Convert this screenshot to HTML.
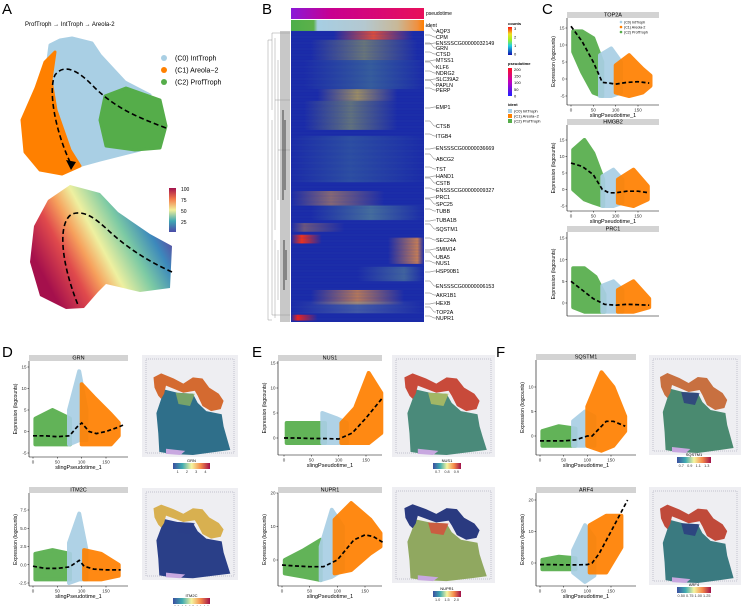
<!DOCTYPE html>
<html><head><meta charset="utf-8">
<style>
html,body{margin:0;padding:0;background:#fff;}
svg{display:block;font-family:"Liberation Sans",Arial,sans-serif;}
</style></head>
<body>
<svg id="fig" width="744" height="606" viewBox="0 0 744 606" xmlns="http://www.w3.org/2000/svg">
<defs>
<linearGradient id="spec" x1="0" x2="1" y1="0" y2="0">
<stop offset="0" stop-color="#3b4fa0"/><stop offset="0.25" stop-color="#3faab0"/><stop offset="0.5" stop-color="#f5f5a0"/><stop offset="0.75" stop-color="#f58a4a"/><stop offset="1" stop-color="#a0104a"/>
</linearGradient>
<linearGradient id="specV" x1="0" x2="0" y1="1" y2="0">
<stop offset="0" stop-color="#4a4aa8"/><stop offset="0.25" stop-color="#3fa8b4"/><stop offset="0.5" stop-color="#f2ef9a"/><stop offset="0.75" stop-color="#f37a4a"/><stop offset="1" stop-color="#a2124e"/>
</linearGradient>
<linearGradient id="umapg" x1="0.15" y1="0.85" x2="1" y2="0.45">
<stop offset="0" stop-color="#a5104c"/><stop offset="0.22" stop-color="#e04a4c"/><stop offset="0.36" stop-color="#f6a05c"/><stop offset="0.5" stop-color="#eef0a0"/><stop offset="0.7" stop-color="#7ccaa4"/><stop offset="0.88" stop-color="#3c88bc"/><stop offset="1" stop-color="#5a4ea2"/>
</linearGradient>
<linearGradient id="countsg" x1="0" x2="0" y1="1" y2="0">
<stop offset="0" stop-color="#1010b0"/><stop offset="0.33" stop-color="#20d0e0"/><stop offset="0.55" stop-color="#a0f020"/><stop offset="0.75" stop-color="#f0e020"/><stop offset="1" stop-color="#ff1010"/>
</linearGradient>
<linearGradient id="ptg" x1="0" x2="0" y1="1" y2="0">
<stop offset="0" stop-color="#2020ff"/><stop offset="0.5" stop-color="#c000c0"/><stop offset="1" stop-color="#ff1020"/>
</linearGradient>
<linearGradient id="ptbar" x1="0" x2="1" y1="0" y2="0">
<stop offset="0" stop-color="#8a18d8"/><stop offset="0.3" stop-color="#c80090"/><stop offset="1" stop-color="#e8105a"/>
</linearGradient>
<linearGradient id="identbar" x1="0" x2="1" y1="0" y2="0">
<stop offset="0" stop-color="#4daf4a"/><stop offset="0.17" stop-color="#5cb04a"/><stop offset="0.2" stop-color="#a6cee3"/><stop offset="0.55" stop-color="#b4c8d0"/><stop offset="0.8" stop-color="#c8b898"/><stop offset="0.95" stop-color="#f09040"/><stop offset="1" stop-color="#ff7f00"/>
</linearGradient>
</defs>
<g id="root"></g>
</svg>
<script>
const NS="http://www.w3.org/2000/svg";
const root=document.getElementById('root');
function mk(tag,attrs,parent,txt){const e=document.createElementNS(NS,tag);for(const k in attrs)e.setAttribute(k,attrs[k]);if(txt!==undefined)e.textContent=txt;(parent||root).appendChild(e);return e;}
const GREEN="#55ad4a",BLUE="#a9cfe4",ORANGE="#ff8000";

/* ---------- Panel letters ---------- */
const letters=[["A",2,14],["B",262,14],["C",542,14],["D",2,357],["E",252,357],["F",496,357]];
letters.forEach(l=>{const t=mk('text',{x:l[1],y:l[2],'font-size':15},root,l[0]);});

/* ---------- Panel A ---------- */
const gA=mk('g',{});
mk('text',{x:25,y:26,'font-size':6},gA,"ProfTroph \u2192 IntTroph \u2192 Areola-2");
function pts(a){return a.map(p=>p.join(',')).join(' ');}
const umBlue=[[50,45],[60,40],[72,38],[92,43],[100,55],[112,68],[125,82],[150,95],[140,150],[100,160],[78,166],[60,140],[48,60]];
const umOrange=[[55,52],[45,62],[36,88],[22,120],[25,152],[40,170],[62,174],[80,166],[70,150],[56,110],[51,80]];
const umGreen=[[105,96],[126,88],[160,100],[166,126],[160,148],[135,150],[106,146],[100,120]];
const pb=mk('polygon',{points:pts(umBlue),fill:BLUE,stroke:BLUE,'stroke-width':3,'stroke-linejoin':'round'},gA);
const po=mk('polygon',{points:pts(umOrange),fill:ORANGE,stroke:ORANGE,'stroke-width':3,'stroke-linejoin':'round'},gA);
const pg=mk('polygon',{points:pts(umGreen),fill:GREEN,stroke:GREEN,'stroke-width':3,'stroke-linejoin':'round'},gA);
mk('path',{d:"M166,128 C140,118 118,110 95,88 C80,72 65,62 55,75 C48,90 55,130 70,162",fill:'none',stroke:'#000','stroke-width':1.6,'stroke-dasharray':'5,3'},gA);
mk('polygon',{points:"66,160 76,162 71,170",fill:'#000'},gA);
const legA=[["(C0) IntTroph",BLUE,58],["(C1) Areola\u22122",ORANGE,70],["(C2) ProfTroph",GREEN,82]];
legA.forEach(l=>{const g=mk('g',{},gA);mk('circle',{cx:164,cy:l[2],r:3,fill:l[1]},g);mk('text',{x:175,y:l[2]+2.5,'font-size':7},g,l[0]);});
const umBottom=[[70,185],[100,193],[118,212],[150,234],[172,246],[170,288],[140,292],[106,284],[98,292],[84,308],[66,309],[40,296],[30,262],[34,226],[48,200]];
const ub=mk('polygon',{points:pts(umBottom),fill:'url(#umapg)'},gA);
mk('path',{d:"M172,272 C150,262 130,250 110,232 C95,218 85,210 72,214 C58,222 60,260 78,305",fill:'none',stroke:'#000','stroke-width':1.6,'stroke-dasharray':'5,3'},gA);
const cbA=mk('rect',{x:169,y:188,width:7,height:44,fill:'url(#specV)'},gA);
const cbAticks=[100,75,50,25];
cbAticks.forEach((v,i)=>mk('text',{x:181,y:191+i*11,'font-size':5},gA,String(v)));

/* ---------- Panel B heatmap ---------- */
const gB=mk('g',{});
const HX=291,HW=133,HY=31,HH=291;
const ptbar=mk('rect',{x:HX,y:8,width:HW,height:11,fill:'url(#ptbar)'},gB);
const idbar=mk('rect',{x:HX,y:20,width:HW,height:11,fill:'url(#identbar)'},gB);
mk('text',{x:426,y:15,'font-size':5},gB,"pseudotime");mk('text',{x:426,y:27,'font-size':5},gB,"ident");
mk('rect',{x:HX,y:HY,width:HW,height:HH,fill:'#1a2aa8'},gB);
const bandTop=[0.0,0.03,0.1,0.2,0.24,0.36,0.55,0.6,0.66,0.7,0.71,0.81,0.89,0.93,0.975];
const bandBot=[0.03,0.1,0.2,0.24,0.34,0.52,0.6,0.65,0.69,0.73,0.8,0.86,0.94,0.97,0.995];
const bandCtr=[0.62,0.55,0.6,0.5,0.45,0.45,0.3,0.6,0.1,0.08,0.95,0.85,0.5,0.5,0.05];
const bandWid=[0.3,0.4,0.5,0.3,0.35,0.55,0.4,0.45,0.3,0.15,0.22,0.35,0.35,0.5,0.15];
const bandCol=["#f05030","#b8c048","#60a888","#e0c040","#a8b850","#58a090","#d09050","#70b090","#c08050","#ff3010","#f09040","#70a890","#e89040","#80a0a0","#ff2010"];
const bandOp=[0.9,0.5,0.4,0.65,0.5,0.3,0.6,0.5,0.5,0.95,0.8,0.45,0.75,0.4,0.95];
const defs=document.querySelector('defs');
bandTop.forEach((t,i)=>{
 const id='hb'+i;const lg=mk('linearGradient',{id:id,x1:0,x2:1,y1:0,y2:0},defs);
 const c=bandCtr[i],w=bandWid[i];
 [[Math.max(0,c-w),0],[c,bandOp[i]],[Math.min(1,c+w),0]].forEach(s=>mk('stop',{offset:s[0],'stop-color':bandCol[i],'stop-opacity':s[1]},lg));
 const r=mk('rect',{x:HX,y:HY+t*HH,width:HW,height:(bandBot[i]-t)*HH,fill:'url(#'+id+')'},gB);
 
});
for(let k=0;k<97;k++){mk('line',{x1:HX,x2:HX+HW,y1:HY+k*HH/97,y2:HY+k*HH/97,stroke:(k%2?'#2040b8':'#3a60a8'),'stroke-width':0.6,opacity:0.35},gB);}
mk('rect',{x:280,y:HY,width:10,height:HH,fill:'#c8c8c8'},gB);
mk('path',{d:"M268,40 V320 M268,40 H272 M268,320 H272 M272,33 V110 M272,120 V315 M275,38 V230 M275,240 V318 M278,60 V200 M278,250 V300 M272,33 H290 M275,100 H290 M278,150 H290 M272,315 H290",fill:'none',stroke:'#999','stroke-width':0.5},gB);
mk('path',{d:"M283,110 V200 M285,120 V190 M284,240 V290 M286,250 V280",fill:'none',stroke:'#222','stroke-width':0.8},gB);
const genes=["AQP3","CPM","ENSSSCG00000032149","GRN","CTSD","MTSS1","KLF6","NDRG2","SLC39A2","PAPLN","PERP","EMP1","CTSB","ITGB4","ENSSSCG00000036669","ABCG2","TST","HAND1","CSTB","ENSSSCG00000009327","PRC1","SPC25","TUBB","TUBA1B","SQSTM1","SEC24A","SMIM14","UBA5","NUS1","HSP90B1","ENSSSCG00000006153","AKR1B1","HEXB","TOP2A","NUPR1"];
const geneY=[31,37,43,48,54,60,67,73,79,85,90,107,126,136,148,159,169,176,183,190,197,204,211,220,229,240,249,257,263,271,286,295,303,312,318];
genes.forEach((g,i)=>{const y=geneY[i];const gg=mk('g',{},gB);
 mk('path',{d:`M425,${y-2+((i%3)-1)*3} L430,${y-2+((i%3)-1)*3} L434,${y} L436,${y}`,fill:'none',stroke:'#444','stroke-width':0.4},gg);
 mk('text',{x:436,y:y+2,'font-size':5.3},gg,g);});
const gL=mk('g',{},gB);
mk('text',{x:508,y:25,'font-size':4,'font-weight':'bold'},gL,"counts");
mk('rect',{x:508,y:27,width:4,height:28,fill:'url(#countsg)'},gL);
["3","2","1","0"].forEach((v,i)=>mk('text',{x:514,y:30+i*8.5,'font-size':4},gL,v));
mk('text',{x:508,y:65,'font-size':4,'font-weight':'bold'},gL,"pseudotime");
mk('rect',{x:508,y:68,width:4,height:28,fill:'url(#ptg)'},gL);
["200","150","100","50","0"].forEach((v,i)=>mk('text',{x:514,y:71+i*6.6,'font-size':4},gL,v));
mk('text',{x:508,y:106,'font-size':4,'font-weight':'bold'},gL,"ident");
[["(C0) IntTroph",BLUE],["(C1) Areola\u22122",ORANGE],["(C2) ProfTroph",GREEN]].forEach((l,i)=>{mk('rect',{x:508,y:109+i*5,width:4,height:4,fill:l[1]},gL);mk('text',{x:514,y:112.5+i*5,'font-size':4},gL,l[0]);});

/* ---------- scatter panels ---------- */
const panels=[
 {name:"TOP2A",box:[567,18,659,105],xc:[571,638],yc:[15,28,-5,96],yt:[-5,0,5,10,15],legend:true,
  g:[[5,8,14],[25,2,14],[50,-4,12],[70,-5,5]],b:[[65,-5,7],[90,-5,9],[112,-4,5]],o:[[100,-4,4],[130,-5,7],[160,-4,3],[178,-2,1]],
  tx:[0,25,50,70,85,100,125,150,175],ty:[15.5,11,5,-1,-1.2,-1.5,-1,-0.8,-1.2]},
 {name:"HMGB2",box:[567,125,659,211],xc:[571,638],yc:[15,140,-5,206],yt:[-5,0,5,10,15],
  g:[[5,0,12],[30,-3,15],[50,-4,11],[72,-5,3]],b:[[70,-5,4],[95,-5,6],[115,-4,3]],o:[[105,-4,3],[140,-5,6],[172,-3,1]],
  tx:[0,25,50,70,85,100,125,150,175],ty:[8,7,4.5,0,-1,-1,-0.5,-0.5,-1]},
 {name:"PRC1",box:[567,232,659,316],xc:[571,638],yc:[15,238,0,303],yt:[0,5,10,15],noxaxis:true,
  g:[[5,-1,8],[30,-2,8],[55,-2,6],[75,-2,2]],b:[[70,-2,4],[95,-2,5],[115,-2,3]],o:[[105,-2,3],[140,-2,5],[175,-1,1]],
  tx:[0,25,50,75,100,125,150,175],ty:[5,3,1,-0.3,-0.5,-0.3,-0.4,-0.5]},
 {name:"GRN",box:[29,361,128,457],xc:[33,106],yc:[15,367,-5,453],yt:[-5,0,5,10,15],
  g:[[5,-3,3],[40,-3,5],[76,-3,3]],b:[[74,-3,5],[95,-2,14],[110,-2,5]],o:[[100,-3,11],[125,-3,8],[160,-3,4],[176,-1,2]],
  tx:[0,25,50,75,90,100,115,130,150,175,185],ty:[-1,-1,-1.2,-1,1,2,0,-0.5,0,1,1.5]},
 {name:"ITM2C",box:[29,493,128,586],xc:[33,106],yc:[7.5,510,-2.5,583],yt:[-2.5,0,2.5,5,7.5],fmt:1,
  g:[[5,-2,1.5],[40,-2,2],[76,-2,1.5]],b:[[74,-2.5,3],[95,-2,7],[110,-2,2]],o:[[105,-2,2],[140,-2,1.5],[176,-1.5,0]],
  tx:[0,25,50,75,95,105,125,150,180],ty:[-0.2,-0.5,-0.5,-0.3,0.6,-0.2,-0.6,-0.7,-0.7]},
 {name:"NUS1",box:[278,361,382,455],xc:[284,366],yc:[15,363,0,438],yt:[0,5,10,15],
  g:[[5,-1,3],[40,-1,3],[75,-1,3]],b:[[70,-1,5],[95,-1,4],[115,-1,3]],o:[[105,-1,3],[130,-1,6],[155,-1,13],[178,1,9]],
  tx:[0,25,50,75,100,125,150,165,180],ty:[0,0,-0.1,-0.1,-0.2,1,4,6,8]},
 {name:"NUPR1",box:[278,493,382,586],xc:[282,365],yc:[20,493,0,560],yt:[0,10,20],
  g:[[5,-4,0],[40,-5,3],[70,-6,6]],b:[[70,-6,4],[90,-5,15],[110,-3,10]],o:[[95,-4,12],[125,-3,17],[160,2,12],[178,4,8]],
  tx:[0,25,50,75,100,115,130,150,165,185],ty:[-1.5,-1.8,-2,-2,0,3,6,7.5,7,5]},
 {name:"SQSTM1",box:[536,360,636,455],xc:[540,611],yc:[10,387,0,436],yt:[0,5,10],
  g:[[5,-2,1],[40,-2,2],[75,-2,1.5]],b:[[70,-2,3],[95,-2,5],[115,-2,4]],o:[[100,-2,6],[130,-3,13],[155,-2,10],[180,1,4]],
  tx:[0,25,50,75,100,110,125,140,155,180],ty:[-1,-1,-1,-0.8,0,0,1.5,3,3,2]},
 {name:"ARF4",box:[536,493,636,586],xc:[540,611],yc:[20,500,0,563],yt:[0,10,20],
  g:[[5,-2,1],[40,-2,2],[75,-2,1.5]],b:[[70,-3,4],[95,-6,12],[115,-4,8]],o:[[105,-3,12],[140,-3,15],[172,5,15]],
  tx:[0,25,50,75,100,110,125,150,185],ty:[-0.5,-0.5,-0.6,-0.6,-0.5,0,3,10,20]}
];
const xTicks=[0,50,100,150];
panels.forEach(p=>{
 const [L,T,R,B]=p.box;
 const sx=v=>p.xc[0]+(p.xc[1]-p.xc[0])*v/150;
 const sy=v=>p.yc[1]+(p.yc[3]-p.yc[1])*(v-p.yc[0])/(p.yc[2]-p.yc[0]);
 const g=mk('g',{});
 const strip=mk('rect',{x:L,y:T-6,width:R-L,height:6,fill:'#d3d3d3'},g);
 mk('text',{x:(L+R)/2,y:T-1.3,'font-size':5.5,'text-anchor':'middle'},g,p.name);
 const cl=mk('g',{},g);
 [[p.g,GREEN,'cloud-proftroph'],[p.b,BLUE,'cloud-inttroph'],[p.o,ORANGE,'cloud-areola2']].forEach(c=>{
  const env=c[0];const top=env.map(e=>[sx(e[0]),sy(e[2])]);const bot=env.slice().reverse().map(e=>[sx(e[0]),sy(e[1])]);
  const d="M"+top.concat(bot).map(q=>q[0].toFixed(1)+','+q[1].toFixed(1)).join(' L')+" Z";
  const e=mk('path',{d:d,fill:c[1],'stroke':c[1],'stroke-width':4,'stroke-linejoin':'round',opacity:0.92},cl);
  
 });
 const tl=mk('polyline',{points:p.tx.map((x,i)=>sx(x).toFixed(1)+','+sy(p.ty[i]).toFixed(1)).join(' '),fill:'none',stroke:'#000','stroke-width':1.7,'stroke-dasharray':'4,2.5'},g);
 
 mk('line',{x1:L,y1:T,x2:L,y2:B,stroke:'#000','stroke-width':0.6},g);
 p.yt.forEach(v=>{const y=sy(v);mk('line',{x1:L-1.5,x2:L,y1:y,y2:y,stroke:'#000','stroke-width':0.5},g);mk('text',{x:L-2.5,y:y+1.6,'font-size':4.5,'text-anchor':'end',fill:'#333'},g,p.fmt?v.toFixed(1):String(v));});
 const yl=mk('text',{x:0,y:0,'font-size':5,'text-anchor':'middle',transform:`translate(${L-12},${(T+B)/2}) rotate(-90)`},g,"Expression (logcounts)");
 
 mk('line',{x1:L,y1:B,x2:R,y2:B,stroke:'#000','stroke-width':0.6},g);
 if(!p.noxaxis){
  xTicks.forEach(v=>{const x=sx(v);mk('line',{x1:x,x2:x,y1:B,y2:B+1.5,stroke:'#000','stroke-width':0.5},g);mk('text',{x:x,y:B+6.5,'font-size':4.5,'text-anchor':'middle',fill:'#333'},g,String(v));});
  const xl=mk('text',{x:(L+R)/2,y:B+12,'font-size':5.5,'text-anchor':'middle'},g,"slingPseudotime_1");
  
 }
 if(p.legend){
  [["(C0) IntTroph",BLUE],["(C1) Areola-2",ORANGE],["(C2) ProfTroph",GREEN]].forEach((l,i)=>{mk('circle',{cx:621,cy:22+i*5,r:1.3,fill:l[1]},g);mk('text',{x:624,y:23.4+i*5,'font-size':3.6},g,l[0]);});
 }
});

/* ---------- spatial tissue maps ---------- */
const tBand=[[12,22],[20,18],[33,23],[43,28],[53,22],[63,23],[70,32],[80,38],[85,45],[82,53],[72,55],[63,50],[58,40],[55,35],[43,37],[33,33],[25,30],[23,38],[20,43],[17,40],[13,32]];
const tBody=[[20,33],[37,37],[53,38],[58,47],[67,55],[83,58],[85,70],[88,80],[92,93],[77,95],[53,98],[30,97],[18,95],[17,77],[15,57],[20,43]];
const spatial=[
 {name:"GRN",box:[142,355,96,102],band:"#d46a30",body:"#2f6f8a",mid:"#8ab060",cb:[173,463,37],ticks:["1","2","3","4"]},
 {name:"ITM2C",box:[142,488,96,92],band:"#d8b050",body:"#2a3f88",mid:"#2a3f88",cb:[173,598,37],ticks:["0.8","1.0","1.2","1.4","1.6"]},
 {name:"NUS1",box:[392,355,103,102],band:"#c84a3a",body:"#4a8a7a",mid:"#b8c060",cb:[433,463,28],ticks:["0.7","0.8","0.9"]},
 {name:"NUPR1",box:[392,487,103,96],band:"#2a3a80",body:"#90a860",mid:"#d84a3a",cb:[433,591,28],ticks:["1.0","1.5","2.0"]},
 {name:"SQSTM1",box:[649,355,92,100],band:"#c87040",body:"#4a8a70",mid:"#2a3a80",cb:[677,457,34],ticks:["0.7","0.9","1.1","1.3"]},
 {name:"ARF4",box:[649,487,92,98],band:"#c04a3a",body:"#3a7a80",mid:"#2a3a80",cb:[677,587,34],ticks:["0.50","0.75","1.00","1.25"]}
];
spatial.forEach(s=>{
 const [x,y,w,h]=s.box;const g=mk('g',{});
 mk('rect',{x:x,y:y,width:w,height:h,fill:'#eeeef2'},g);
 mk('rect',{x:x+4,y:y+4,width:w-8,height:h-8,fill:'none',stroke:'#d8d8e0','stroke-width':2,'stroke-dasharray':'1,1'},g);
 const tr=q=>(x+q[0]*w/100).toFixed(1)+','+(y+q[1]*h/100).toFixed(1);
 mk('polygon',{points:tBody.map(tr).join(' '),fill:s.body},g);
 mk('polygon',{points:[[35,37],[55,38],[50,50],[38,48]].map(tr).join(' '),fill:s.mid,opacity:0.8},g);
 mk('polygon',{points:tBand.map(tr).join(' '),fill:s.band},g);
 mk('polygon',{points:[[25,92],[45,94],[40,98],[25,97]].map(tr).join(' '),fill:'#c8a8e0'},g);
 const [cx,cy,cw]=s.cb;
 mk('text',{x:cx+cw/2,y:cy-1,'font-size':4,'text-anchor':'middle'},g,s.name);
 const cbr=mk('rect',{x:cx,y:cy,width:cw,height:6,fill:'url(#spec)'},g);
 s.ticks.forEach((t,i)=>mk('text',{x:cx+cw*(i+0.5)/s.ticks.length,y:cy+10,'font-size':3.8,'text-anchor':'middle',fill:'#333'},g,t));
});
</script>
</body></html>
